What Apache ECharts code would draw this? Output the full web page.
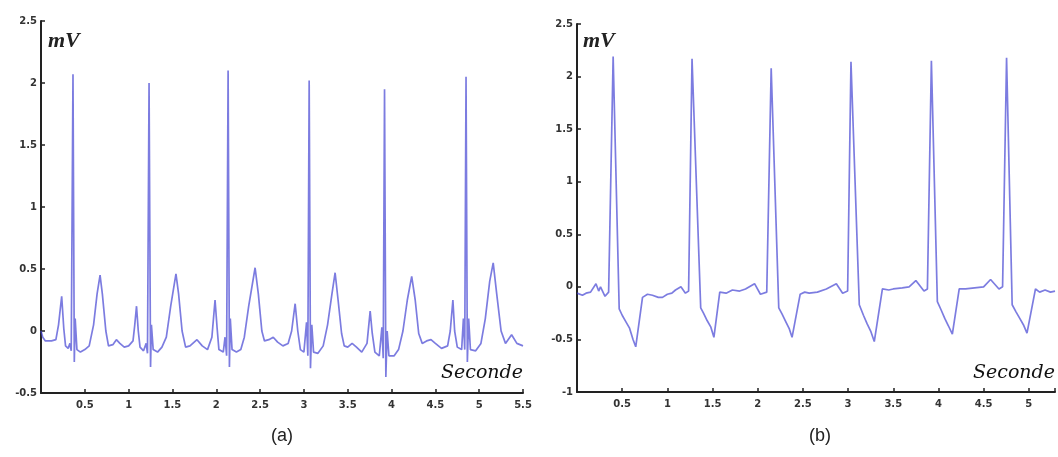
<!DOCTYPE html>
<html>
<head>
<meta charset="utf-8">
<script src="https://cdn.jsdelivr.net/npm/echarts@6/dist/echarts.min.js"></script>
<style>
html,body{margin:0;padding:0;background:#fff;}
#chart{width:1058px;height:457px;}
</style>
</head>
<body>
<div id="chart"></div>
<script>
// ---- Panel (a) ECG samples: time (s) and amplitude (mV) ----
const timesA = [0,0.02,0.05,0.12,0.17,0.2,0.236,0.26,0.28,0.31,0.33,0.345,0.365,0.38,0.39,0.41,0.45,0.5,0.55,0.6,0.64,0.674,0.7,0.74,0.77,0.82,0.86,0.9,0.95,1.0,
1.05,1.07,1.09,1.11,1.13,1.17,1.2,1.215,1.233,1.25,1.26,1.28,1.33,1.38,1.43,1.48,1.54,1.57,1.61,1.65,1.7,1.78,1.84,1.9,1.95,1.986,2.01,2.03,2.08,2.1,
2.118,2.135,2.15,2.16,2.18,2.23,2.28,2.32,2.37,2.443,2.48,2.52,2.55,2.6,2.65,2.7,2.76,2.82,2.86,2.9,2.93,2.96,3.0,3.03,3.045,3.06,3.075,3.09,3.11,3.16,
3.22,3.27,3.32,3.356,3.39,3.43,3.46,3.5,3.55,3.6,3.66,3.72,3.756,3.78,3.81,3.86,3.89,3.905,3.92,3.935,3.95,3.97,4.03,4.08,4.13,4.18,4.23,4.27,4.31,4.35,
4.4,4.45,4.5,4.57,4.64,4.67,4.7,4.72,4.75,4.8,4.82,4.835,4.85,4.865,4.88,4.9,4.96,5.02,5.07,5.12,5.16,5.2,5.25,5.3,5.37,5.43,5.5];
const mvA = [0,-0.05,-0.08,-0.08,-0.07,0.05,0.28,0.02,-0.12,-0.14,-0.1,-0.16,2.07,-0.25,0.1,-0.15,-0.17,-0.15,-0.12,0.05,0.3,0.45,0.3,0,-0.12,-0.11,-0.07,-0.1,-0.13,-0.12,
-0.08,0.05,0.2,0,-0.13,-0.16,-0.1,-0.18,2.0,-0.29,0.05,-0.15,-0.17,-0.13,-0.05,0.2,0.46,0.3,0,-0.13,-0.12,-0.07,-0.12,-0.15,-0.05,0.25,0.02,-0.15,-0.17,-0.05,
-0.2,2.1,-0.29,0.1,-0.15,-0.17,-0.15,-0.05,0.2,0.51,0.3,0,-0.08,-0.07,-0.05,-0.09,-0.12,-0.1,0,0.22,0,-0.15,-0.17,0.07,-0.2,2.02,-0.3,0.05,-0.17,-0.18,
-0.12,0.05,0.3,0.47,0.25,-0.02,-0.12,-0.13,-0.1,-0.13,-0.17,-0.1,0.16,-0.02,-0.17,-0.2,0.03,-0.22,1.95,-0.37,0,-0.2,-0.2,-0.15,0,0.25,0.44,0.25,-0.02,-0.1,
-0.08,-0.07,-0.1,-0.14,-0.12,0,0.25,0,-0.13,-0.15,0.1,-0.15,2.05,-0.25,0.1,-0.15,-0.16,-0.1,0.1,0.4,0.55,0.3,0,-0.1,-0.03,-0.1,-0.12];

// ---- Panel (b) ECG samples ----
const timesB = [0,0.06,0.1,0.15,0.21,0.24,0.26,0.31,0.35,0.4,0.467,0.5,0.54,0.58,0.62,0.65,0.725,0.78,0.835,0.9,0.946,1.0,1.05,1.09,1.15,1.2,1.235,1.273,1.369,1.4,
1.44,1.48,1.515,1.58,1.65,1.72,1.8,1.865,1.965,2.03,2.1,2.149,2.233,2.27,2.31,2.35,2.38,2.47,2.52,2.57,2.66,2.76,2.87,2.94,2.995,3.032,3.124,3.17,3.21,3.25,
3.29,3.38,3.45,3.5,3.6,3.675,3.75,3.84,3.878,3.922,3.988,4.03,4.07,4.11,4.154,4.23,4.3,4.4,4.5,4.577,4.67,4.71,4.754,4.816,4.86,4.9,4.94,4.98,5.074,5.12,
5.18,5.24,5.29];
const mvB = [-0.06,-0.08,-0.06,-0.05,0.03,-0.04,0,-0.09,-0.05,2.19,-0.21,-0.27,-0.33,-0.39,-0.5,-0.57,-0.1,-0.07,-0.08,-0.1,-0.1,-0.07,-0.06,-0.03,0,-0.06,-0.04,2.17,-0.2,-0.25,
-0.32,-0.38,-0.48,-0.05,-0.06,-0.03,-0.04,-0.02,0.03,-0.07,-0.05,2.08,-0.2,-0.26,-0.33,-0.4,-0.48,-0.07,-0.05,-0.06,-0.05,-0.02,0.03,-0.06,-0.04,2.14,-0.17,-0.27,-0.35,-0.42,
-0.52,-0.02,-0.03,-0.02,-0.01,0,0.06,-0.04,-0.02,2.15,-0.14,-0.22,-0.3,-0.37,-0.45,-0.02,-0.02,-0.01,0,0.07,-0.02,0,2.18,-0.17,-0.24,-0.3,-0.36,-0.44,-0.02,-0.05,
-0.03,-0.05,-0.04];

// ---- Axis ticks ----
const yTicksA = [-0.5, 0, 0.5, 1, 1.5, 2, 2.5];
const yTicksB = [-1, -0.5, 0, 0.5, 1, 1.5, 2, 2.5];
const xTicksA = [0.5, 1, 1.5, 2, 2.5, 3, 3.5, 4, 4.5, 5, 5.5];
const xTicksB = [0.5, 1, 1.5, 2, 2.5, 3, 3.5, 4, 4.5, 5];

const seriesA = timesA.map((t, i) => [t, mvA[i]]);
const seriesB = timesB.map((t, i) => [t, mvB[i]]);

const lineColor = 'rgba(62,62,210,0.68)';
const axisLine = { show: true, onZero: false, lineStyle: { color: '#222', width: 2 } };
const axisTick = { show: true, inside: true, length: 4, lineStyle: { color: '#222', width: 1.5 } };
const labelStyle = { color: '#333', fontFamily: 'DejaVu Sans', fontWeight: 'bold', fontSize: 10 };

function xAxis(idx, max, ticks) {
  return {
    type: 'value', gridIndex: idx, min: 0, max: max, interval: 0.5,
    axisLine, axisTick, splitLine: { show: false },
    axisLabel: Object.assign({}, labelStyle, { margin: 7, showMinLabel: false,
      formatter: v => ticks.includes(v) ? String(v) : '' })
  };
}
function yAxis(idx, min, ticks) {
  return {
    type: 'value', gridIndex: idx, min: min, max: 2.5, interval: 0.5,
    axisLine, axisTick, splitLine: { show: false },
    axisLabel: Object.assign({}, labelStyle, { margin: 4,
      formatter: v => ticks.includes(v) ? String(v) : '' })
  };
}

const chart = echarts.init(document.getElementById('chart'), null, { renderer: 'canvas' });
chart.setOption({
  backgroundColor: '#fff',
  animation: false,
  grid: [
    { left: 41, top: 21, width: 482, height: 372 },
    { left: 577, top: 24, width: 479, height: 368 }
  ],
  xAxis: [xAxis(0, 5.5, xTicksA), xAxis(1, 5.29, xTicksB)],
  yAxis: [yAxis(0, -0.5, yTicksA), yAxis(1, -1, yTicksB)],
  series: [
    { type: 'line', xAxisIndex: 0, yAxisIndex: 0, data: seriesA, showSymbol: false,
      lineStyle: { color: lineColor, width: 1.7 } },
    { type: 'line', xAxisIndex: 1, yAxisIndex: 1, data: seriesB, showSymbol: false,
      lineStyle: { color: lineColor, width: 1.7 } }
  ],
  graphic: [
    { type: 'text', left: 48, top: 30, style: { text: 'mV', font: 'italic bold 22px "Liberation Serif"', fill: '#222' } },
    { type: 'text', left: 583, top: 30, style: { text: 'mV', font: 'italic bold 22px "Liberation Serif"', fill: '#222' } },
    { type: 'text', left: 441, top: 364, style: { text: 'Seconde', font: 'italic 19px "DejaVu Serif"', fill: '#111' } },
    { type: 'text', left: 973, top: 364, style: { text: 'Seconde', font: 'italic 19px "DejaVu Serif"', fill: '#111' } },
    { type: 'text', left: 271, top: 427, style: { text: '(a)', font: '18px "Liberation Sans"', fill: '#222' } },
    { type: 'text', left: 809, top: 427, style: { text: '(b)', font: '18px "Liberation Sans"', fill: '#222' } }
  ]
});
</script>
</body>
</html>
